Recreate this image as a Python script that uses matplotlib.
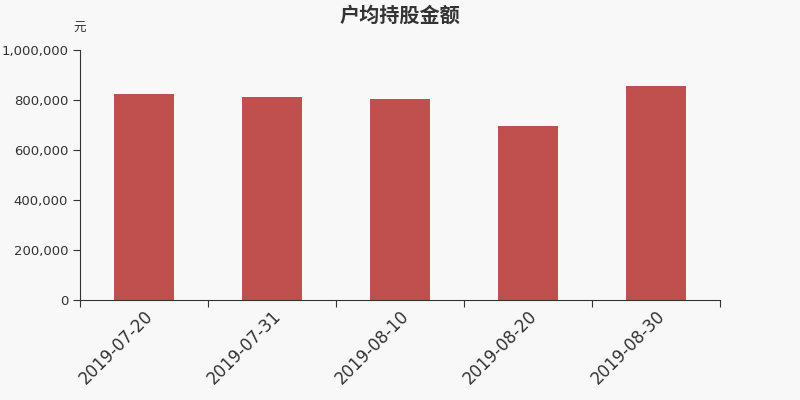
import matplotlib
matplotlib.use('Agg')
import matplotlib.pyplot as plt
from matplotlib.ticker import FuncFormatter

plt.rcParams['font.family'] = ['Noto Sans CJK SC', 'DejaVu Sans']

dates = ['2019-07-20', '2019-07-31', '2019-08-10', '2019-08-20', '2019-08-30']
values = [823000, 814000, 803000, 695000, 855000]

bg = '#f8f8f8'
fig = plt.figure(figsize=(8, 4), dpi=100, facecolor=bg)
ax = fig.add_axes([0.1, 0.25, 0.8, 0.625], facecolor=bg)

x = list(range(len(dates)))
ax.bar(x, values, width=0.47, color='#c0504d', zorder=2)

ax.set_xlim(-0.5, len(dates) - 0.5)
ax.set_ylim(0, 1000000)
ax.set_yticks([0, 200000, 400000, 600000, 800000, 1000000])
ax.yaxis.set_major_formatter(FuncFormatter(lambda v, p: f'{int(v):,}'))

ax.set_xticks([i - 0.5 for i in range(len(dates) + 1)])
ax.set_xticklabels([])
ax.set_xticks(x, minor=True)
ax.set_xticklabels(dates, minor=True, rotation=45, ha='right', rotation_mode='anchor',
                   fontsize=12, color='#333333', family='DejaVu Sans')
ax.tick_params(axis='x', which='minor', length=0, pad=5)
ax.tick_params(axis='x', which='major', length=5, color='#333333')
ax.tick_params(axis='y', length=5, color='#333333', labelsize=9.5, labelcolor='#333333')
for lab in ax.get_yticklabels():
    lab.set_family('DejaVu Sans')

for s in ['top', 'right']:
    ax.spines[s].set_visible(False)
for s in ['left', 'bottom']:
    ax.spines[s].set_color('#333333')

fig.text(0.5, 0.963, '户均持股金额', ha='center', va='center', fontsize=14.5,
         fontweight='bold', color='#333333')
fig.text(0.1, 0.93, '元', ha='center', va='center', fontsize=9, color='#333333')

fig.savefig('out.png', dpi=100, facecolor=bg)
